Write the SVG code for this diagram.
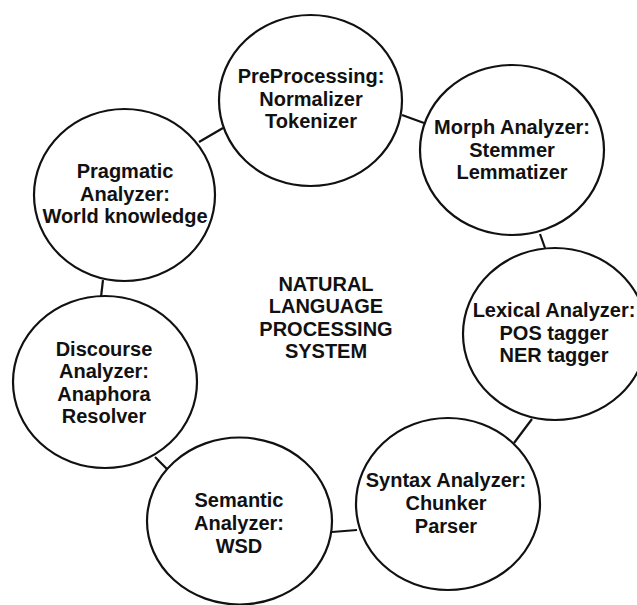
<svg xmlns="http://www.w3.org/2000/svg" width="637" height="605" viewBox="0 0 637 605">
<style>
.node{fill:#fff;stroke:#111;stroke-width:2.2}
.conn line{stroke:#111;stroke-width:2.2}
text{font-family:"Liberation Sans",Arial,sans-serif;font-weight:bold;font-size:20px;fill:#111;text-anchor:middle}
</style>
<rect width="637" height="605" fill="#fff"/>
<g id="connectors" class="conn">
<line x1="402" y1="115" x2="424" y2="123"/>
<line x1="223" y1="128" x2="199" y2="142"/>
<line x1="540" y1="234" x2="545" y2="248"/>
<line x1="532" y1="419" x2="514" y2="443"/>
<line x1="332" y1="532" x2="357" y2="530"/>
<line x1="155" y1="457" x2="168" y2="470"/>
<line x1="103" y1="280" x2="101" y2="297"/>
</g>
<g id="preprocessing">
<ellipse class="node" cx="310.5" cy="100.5" rx="91.5" ry="85.5"/>
<text x="311" y="83">PreProcessing:</text>
<text x="311" y="106">Normalizer</text>
<text x="311" y="128">Tokenizer</text>
</g>
<g id="morph">
<ellipse class="node" cx="512" cy="150" rx="92" ry="85"/>
<text x="512" y="134">Morph Analyzer:</text>
<text x="512" y="157">Stemmer</text>
<text x="512" y="179">Lemmatizer</text>
</g>
<g id="lexical">
<ellipse class="node" cx="555" cy="334" rx="92" ry="86"/>
<text x="554" y="317">Lexical Analyzer:</text>
<text x="554" y="340">POS tagger</text>
<text x="554" y="362">NER tagger</text>
</g>
<g id="syntax">
<ellipse class="node" cx="448" cy="504" rx="92" ry="86"/>
<text x="446" y="487">Syntax Analyzer:</text>
<text x="446" y="510">Chunker</text>
<text x="446" y="533">Parser</text>
</g>
<g id="semantic">
<ellipse class="node" cx="239.5" cy="521" rx="92.5" ry="83.5"/>
<text x="239" y="507">Semantic</text>
<text x="239" y="530">Analyzer:</text>
<text x="239" y="553">WSD</text>
</g>
<g id="discourse">
<ellipse class="node" cx="105" cy="382" rx="92" ry="86"/>
<text x="104" y="356">Discourse</text>
<text x="104" y="378">Analyzer:</text>
<text x="104" y="401">Anaphora</text>
<text x="104" y="423">Resolver</text>
</g>
<g id="pragmatic">
<ellipse class="node" cx="124.5" cy="195" rx="90.5" ry="86"/>
<text x="125" y="178">Pragmatic</text>
<text x="125" y="201">Analyzer:</text>
<text x="125" y="223">World knowledge</text>
</g>
<g id="center">
<text x="326" y="291">NATURAL</text>
<text x="326" y="313">LANGUAGE</text>
<text x="326" y="336">PROCESSING</text>
<text x="326" y="358">SYSTEM</text>
</g>
</svg>
